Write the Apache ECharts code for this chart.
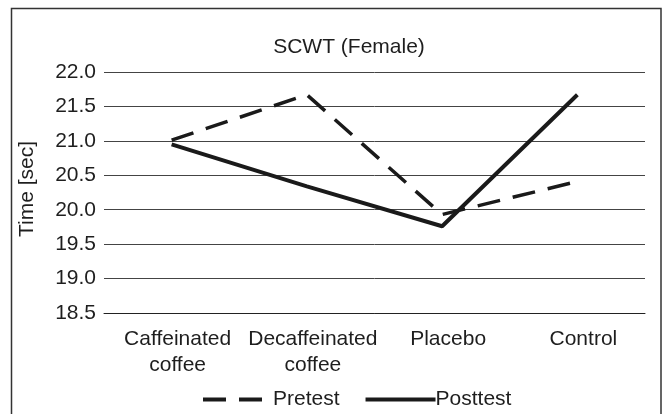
<!DOCTYPE html>
<html>
<head>
<meta charset="utf-8">
<script src="https://cdn.jsdelivr.net/npm/echarts@6/dist/echarts.min.js"></script>
<style>
html,body{margin:0;padding:0;background:#fff;}
#c{width:663px;height:414px;}
</style>
</head>
<body>
<div id="c"></div>
<script>
var categories = ["Caffeinated\ncoffee", "Decaffeinated\ncoffee", "Placebo", "Control"];
var pretest = [21.01, 21.67, 19.93, 20.41];
var posttest = [20.95, 20.34, 19.76, 21.67];
var yTicks = { min: 18.5, max: 22.0, step: 0.5 };
var titleText = "SCWT (Female)";
var yAxisTitle = "Time [sec]";
var seriesNames = ["Pretest", "Posttest"];

var FONT = "'Liberation Sans', Arial, sans-serif";
var INK = "#1a1a1a";
var chart = echarts.init(document.getElementById('c'), null, {renderer: 'canvas'});
chart.setOption({
  animation: false,
  backgroundColor: '#fff',
  textStyle: {fontFamily: FONT},
  title: {
    text: titleText,
    left: 344, top: 32,
    textAlign: 'center',
    textStyle: {fontFamily: FONT, fontSize: 21, fontWeight: 'normal', color: '#1e1e1e'}
  },
  graphic: [{
    type: 'rect',
    shape: {x: 11.5, y: 8.5, width: 649.5, height: 420},
    style: {fill: 'none', stroke: '#333', lineWidth: 1.5},
    silent: true, z: 100
  }, {
    type: 'text',
    x: 27, y: 189,
    rotation: Math.PI / 2,
    style: {text: yAxisTitle, font: '21px ' + FONT, fill: '#1e1e1e', align: 'center', verticalAlign: 'middle'}
  }],
  legend: {
    left: 196, top: 384,
    itemWidth: 70, itemHeight: 14, itemGap: 24,
    itemStyle: {opacity: 0},
    lineStyle: {width: 4},
    textStyle: {fontFamily: FONT, fontSize: 21, color: '#1e1e1e', padding: [0, 0, 0, -5]},
    data: seriesNames
  },
  grid: {left: 104, right: 18, top: 72, bottom: 101, containLabel: false},
  xAxis: {
    type: 'category',
    data: categories,
    boundaryGap: true,
    axisLine: {show: true, lineStyle: {color: '#222', width: 1}},
    axisTick: {show: false},
    axisLabel: {
      interval: 0, margin: 13,
      fontFamily: FONT, fontSize: 21, lineHeight: 26, color: '#1e1e1e',
      padding: [0, 0, 0, 12]
    }
  },
  yAxis: {
    type: 'value',
    min: yTicks.min, max: yTicks.max, interval: yTicks.step,
    axisLine: {show: false},
    axisTick: {show: false},
    splitLine: {show: true, lineStyle: {color: '#444', width: 1}},
    axisLabel: {
      margin: 8, fontFamily: FONT, fontSize: 21, color: '#1e1e1e',
      formatter: function (v) { return v.toFixed(1); }
    }
  },
  series: [{
    name: seriesNames[0],
    type: 'line',
    data: pretest,
    symbol: 'circle', symbolSize: 0, showSymbol: false,
    lineStyle: {color: INK, width: 3.5, type: [23, 13]},
    itemStyle: {color: INK}
  }, {
    name: seriesNames[1],
    type: 'line',
    data: posttest,
    symbol: 'circle', symbolSize: 0, showSymbol: false,
    lineStyle: {color: INK, width: 4},
    itemStyle: {color: INK}
  }]
});
</script>
</body>
</html>
